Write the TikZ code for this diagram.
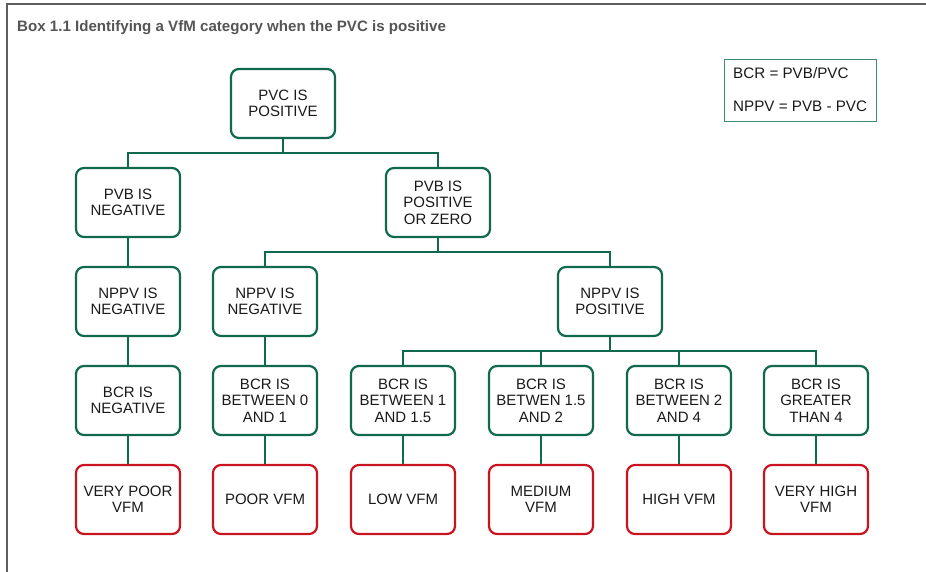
\documentclass[tikz,border=0pt]{standalone}
\usepackage{fontspec}
\setmainfont{Liberation Sans}
\definecolor{vfmgreen}{RGB}{16,104,78}
\definecolor{legendgreen}{RGB}{60,140,112}
\definecolor{vfmred}{RGB}{200,20,30}
\definecolor{framegray}{RGB}{95,95,95}
\definecolor{titlegray}{RGB}{85,85,85}
\definecolor{inktext}{RGB}{25,25,25}
\begin{document}
\begin{tikzpicture}[x=1pt,y=-1pt,
  box/.style={rectangle, rounded corners=8pt, line width=2.2pt,
    minimum width=104pt, minimum height=69pt, inner sep=0pt, align=center,
    text=inktext, font=\fontsize{15}{16.5}\selectfont},
  testbox/.style={box, draw=vfmgreen},
  resultbox/.style={box, draw=vfmred},
  legendtext/.style={anchor=base west, inner sep=0pt, text=inktext, font=\fontsize{15.2}{17}\selectfont},
  conn/.style={draw=vfmgreen, line width=2pt}]
\useasboundingbox (0,0) rectangle (926,572);
% outer frame of the box
\draw[framegray, line width=1.4pt] (7,580) -- (7,4) -- (935,4);
\node[anchor=base west, inner sep=0pt, text=titlegray, font=\bfseries\fontsize{15.1}{17}\selectfont] (title) at (17,32) {Box 1.1 Identifying a VfM category when the PVC is positive};

% legend
\node[draw=legendgreen, line width=1.3pt, minimum width=152pt, minimum height=62pt] (legend) at (800.5,90.5) {};
\node[legendtext] (bcr) at (733,79) {BCR = PVB/PVC};
\node[legendtext] (nppv) at (733,112) {NPPV = PVB - PVC};

% tree
\node[testbox] (pvc) at (283,103.5) {PVC IS\\POSITIVE};
\node[testbox] (pvbneg) at (128,202.5) {PVB IS\\NEGATIVE};
\node[testbox] (pvbpos) at (438,202.5) {PVB IS\\POSITIVE\\OR ZERO};

\node[testbox] (nppvA) at (128,301.5) {NPPV IS\\NEGATIVE};
\node[testbox] (nppvB) at (265,301.5) {NPPV IS\\NEGATIVE};
\node[testbox] (nppvC) at (610,301.5) {NPPV IS\\POSITIVE};

\node[testbox] (bcrA) at (128,400.5) {BCR IS\\NEGATIVE};
\node[testbox] (bcrB) at (265,400.5) {BCR IS\\BETWEEN 0\\AND 1};
\node[testbox] (bcrC) at (403,400.5) {BCR IS\\BETWEEN 1\\AND 1.5};
\node[testbox] (bcrD) at (541,400.5) {BCR IS\\BETWEN 1.5\\AND 2};
\node[testbox] (bcrE) at (679,400.5) {BCR IS\\BETWEEN 2\\AND 4};
\node[testbox] (bcrF) at (816,400.5) {BCR IS\\GREATER\\THAN 4};

\node[resultbox] (vfmA) at (128,499.5) {VERY POOR\\VFM};
\node[resultbox] (vfmB) at (265,499.5) {POOR VFM};
\node[resultbox] (vfmC) at (403,499.5) {LOW VFM};
\node[resultbox] (vfmD) at (541,499.5) {MEDIUM\\VFM};
\node[resultbox] (vfmE) at (679,499.5) {HIGH VFM};
\node[resultbox] (vfmF) at (816,499.5) {VERY HIGH\\VFM};

% branching connectors
\draw[conn] (pvc.south) -- ++(0,14) -| (pvbneg.north);
\draw[conn] (pvc.south) -- ++(0,14) -| (pvbpos.north);
\draw[conn] (pvbpos.south) -- ++(0,14) -| (nppvB.north);
\draw[conn] (pvbpos.south) -- ++(0,14) -| (nppvC.north);
\foreach \t in {bcrC,bcrD,bcrE,bcrF}
  \draw[conn] (nppvC.south) -- ++(0,14) -| (\t.north);

% straight connectors
\draw[conn] (pvbneg) -- (nppvA);
\draw[conn] (nppvA) -- (bcrA);
\draw[conn] (nppvB) -- (bcrB);
\foreach \a/\b in {bcrA/vfmA,bcrB/vfmB,bcrC/vfmC,bcrD/vfmD,bcrE/vfmE,bcrF/vfmF}
  \draw[conn] (\a) -- (\b);
\end{tikzpicture}
\end{document}
